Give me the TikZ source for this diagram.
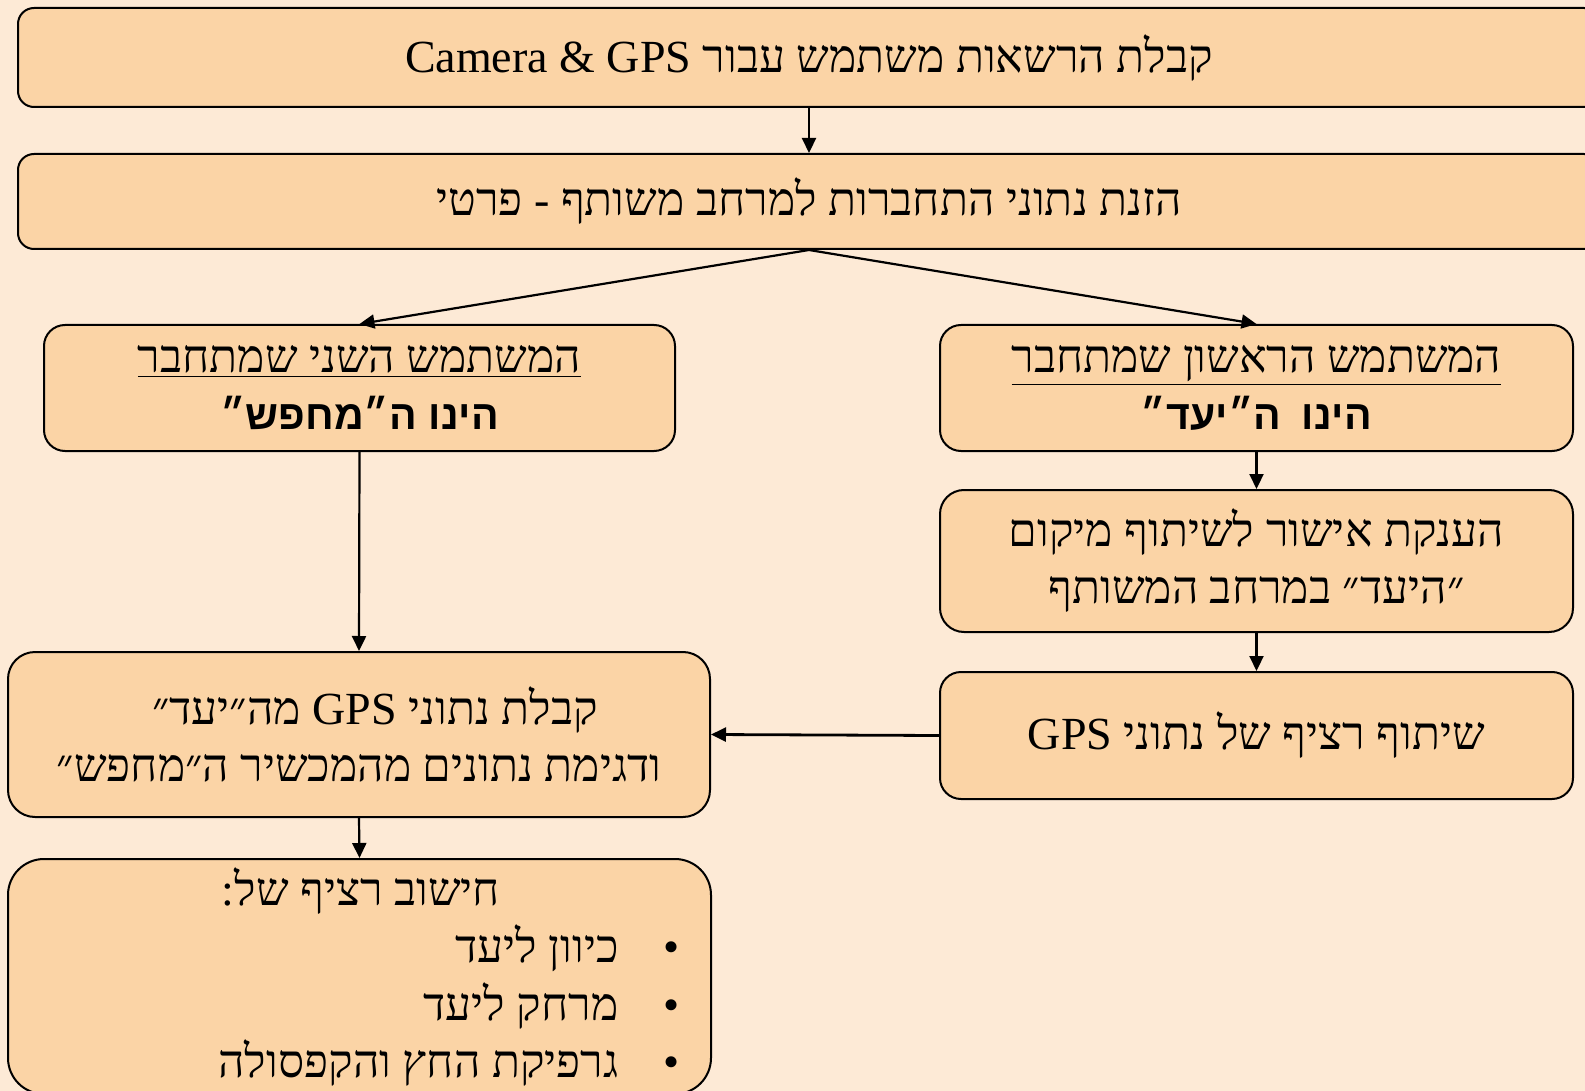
\documentclass[tikz,border=0pt]{standalone}
\usepackage{fontspec}
\setmainfont{Liberation Serif}
\newfontfamily\hebrm[Script=Hebrew]{Liberation Serif}
\newfontfamily\hebsf[Script=Hebrew]{Liberation Sans}
\TeXXeTstate=1
\usetikzlibrary{arrows.meta}
\definecolor{bgc}{RGB}{253,234,214}
\definecolor{boxc}{RGB}{251,212,166}
\newcommand{\boldheb}{\hebsf\bfseries\fontsize{20.5}{28}\selectfont}
\begin{document}
\begin{tikzpicture}[x=0.5pt,y=-0.5pt,
  flowbox/.style n args={3}{draw=black, line width=1pt, fill=boxc,
    minimum width=#1*0.5pt, minimum height=#2*0.5pt, rounded corners=#3*0.5pt,
    inner sep=0pt, align=center, font=\hebrm\fontsize{23}{28.5}\selectfont},
  txt/.style={inner sep=0pt, font=\hebrm\fontsize{23}{28}\selectfont},
  conn/.style={draw=black, line width=1.1pt, -{Triangle[length=7.5pt,width=7pt]}}]
\fill[bgc] (0,0) rectangle (1585,1091);
\useasboundingbox (0,0) rectangle (1585,1091);
\clip (0,0) rectangle (1585,1091);

\node[flowbox={1582}{99}{16}] (top) at (809,57.5)
  {\beginR קבלת הרשאות משתמש עבור \beginL{\rmfamily Camera \& GPS}\endL\endR};
\node[flowbox={1582}{95}{16}] (join) at (809,201.5)
  {\beginR הזנת נתוני התחברות למרחב משותף - פרטי\endR};

\node[flowbox={631}{126}{21}] (seeker) at (359.5,388)
  {\underline{\beginR המשתמש השני שמתחבר\endR}\\
   {\boldheb\beginR הינו ה״מחפש״\endR}};
\node[flowbox={633}{126}{21}] (target) at (1256.5,388)
  {\underline{\beginR המשתמש הראשון שמתחבר\endR}\\
   {\boldheb\beginR הינו\hspace{0.5em}ה״יעד״\endR}};

\node[flowbox={633}{142}{24}] (approve) at (1256.5,561)
  {\beginR הענקת אישור לשיתוף מיקום\endR\\
   \beginR ״היעד״ במרחב המשותף\endR};
\node[flowbox={633}{127}{21}] (share) at (1256.5,735.5)
  {\beginR שיתוף רציף של נתוני \beginL{\rmfamily GPS}\endL\endR};

\node[flowbox={702}{165}{27}] (receive) at (359,734.5)
  {\hspace*{16pt}\beginR קבלת נתוני \beginL{\rmfamily GPS}\endL{} מה״יעד״\endR\\
   \beginR ודגימת נתונים מהמכשיר ה״מחפש״\endR};
\node[flowbox={703}{235}{36}] (compute) at (359.5,976.5) {};

\node[txt, anchor=base] (ctitle) at (361,905) {\beginR חישוב רציף של:\endR};
\node[txt, anchor=base east] (item1) at (619,962) {\beginR כיוון ליעד\endR};
\node[txt, anchor=base east] (item2) at (619,1020) {\beginR מרחק ליעד\endR};
\node[txt, anchor=base east] (item3) at (619,1077) {\beginR גרפיקת החץ והקפסולה\endR};
\node[txt, anchor=base] (b1) at (672,962) {•};
\node[txt, anchor=base] (b2) at (672,1020) {•};
\node[txt, anchor=base] (b3) at (672,1077) {•};

\draw[conn] (top.south) -- (join.north);
\draw[conn] (join.south) -- (seeker.north);
\draw[conn] (join.south) -- (target.north);
\draw[conn] (target.south) -- (approve.north);
\draw[conn] (approve.south) -- (share.north);
\draw[conn] (seeker.south) -- (receive.north);
\draw[conn, line width=1.4pt] (share.west) -- (receive.east);
\draw[conn] (receive.south) -- (compute.north);
\end{tikzpicture}
\end{document}
